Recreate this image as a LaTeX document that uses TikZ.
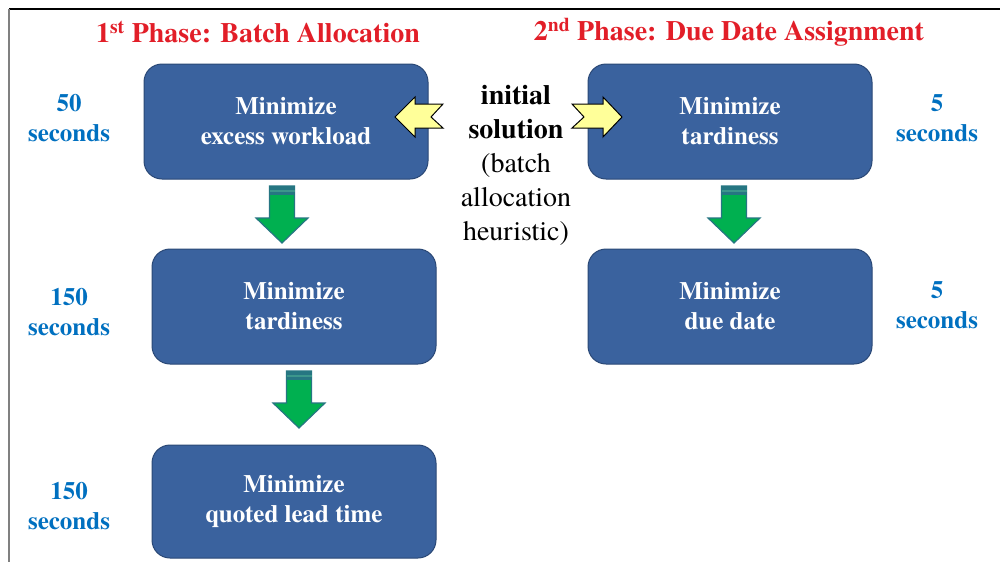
\documentclass[tikz,border=0pt]{standalone}
\usepackage{fontspec}
\setmainfont{texgyretermes}[Extension=.otf, UprightFont=*-regular, BoldFont=*-bold,
  ItalicFont=*-italic, BoldItalicFont=*-bolditalic]
\definecolor{boxfill}{RGB}{58,98,158}
\definecolor{boxline}{RGB}{42,72,118}
\definecolor{titlered}{RGB}{226,30,40}
\definecolor{timeblue}{RGB}{0,112,192}
\definecolor{arrowgreen}{RGB}{0,176,80}
\definecolor{arrowteal}{RGB}{38,118,130}
\definecolor{stripeteal}{RGB}{60,150,140}
\definecolor{paleyellow}{RGB}{255,255,153}
\begin{document}
\begin{tikzpicture}[x=1pt,y=-1pt,
  stage/.style={rectangle, rounded corners=18pt, fill=boxfill, draw=boxline,
    line width=1pt, minimum width=284pt, minimum height=115pt,
    text=white, font=\bfseries\fontsize{25}{30}\selectfont, align=center},
  phase/.style={text=titlered, font=\bfseries\fontsize{28}{34}\selectfont},
  timing/.style={text=timeblue, font=\bfseries\fontsize{25}{30}\selectfont, align=center},
  blockarrow/.style={fill=paleyellow, draw=black, line width=1pt, line join=miter},
  greenarrow/.pic={
    \filldraw[fill=arrowgreen, draw=arrowteal, line width=1.2pt]
      (-12.5,0) -- (12.5,0) -- (12.5,32) -- (26,32) -- (0,57) -- (-26,32) -- (-12.5,32) -- cycle;
    \fill[arrowteal] (-12.5,0) rectangle (12.5,9);
    \fill[stripeteal] (-12.5,4) rectangle (12.5,6);
  }]
\useasboundingbox (0,0) rectangle (1000,562);
\fill[white] (0,0) rectangle (1000,562);

% frame
\draw[black, line width=1.5pt] (9,9) -- (1000,9);
\draw[gray, line width=2pt] (9,9) -- (9,562);

% phase titles
\node[phase] (t1) at (258,32) {1\textsuperscript{st} Phase: Batch Allocation};
\node[phase] (t2) at (729,32) {2\textsuperscript{nd} Phase: Due Date Assignment};

% first phase stages
\node[stage] (a1) at (286,121.5) {Minimize\\excess workload};
\node[stage] (a2) at (294,306.5) {Minimize\\tardiness};
\node[stage, minimum height=113pt] (a3) at (294,501.5) {Minimize\\quoted lead time};

% second phase stages
\node[stage] (b1) at (730,121.5) {Minimize\\tardiness};
\node[stage] (b2) at (730,306.5) {Minimize\\due date};

% time budgets
\node[timing] (s1) at (69,118) {50\\seconds};
\node[timing] (s2) at (69,312) {150\\seconds};
\node[timing] (s3) at (69,506) {150\\seconds};
\node[timing] (s4) at (937,118) {5\\seconds};
\node[timing] (s5) at (937,305) {5\\seconds};

% starting point shared by both phases
\node[align=center, font=\fontsize{28}{34}\selectfont] (init) at (516,165)
  {\textbf{initial}\\\textbf{solution}\\(batch\\allocation\\heuristic)};

% notched arrows from the initial solution to both phases
\draw[blockarrow] (395,117) -- (415,97) -- (415,104) -- (443,104) -- (431,117)
  -- (443,128) -- (415,128) -- (415,137) -- cycle;
\draw[blockarrow] (622,117) -- (603,97) -- (603,104) -- (572,104) -- (584,117)
  -- (572,128) -- (603,128) -- (603,137) -- cycle;

% downward flow between stages
\pic at (282,186) {greenarrow};
\pic at (299,371) {greenarrow};
\pic at (734,186) {greenarrow};
\end{tikzpicture}
\end{document}
